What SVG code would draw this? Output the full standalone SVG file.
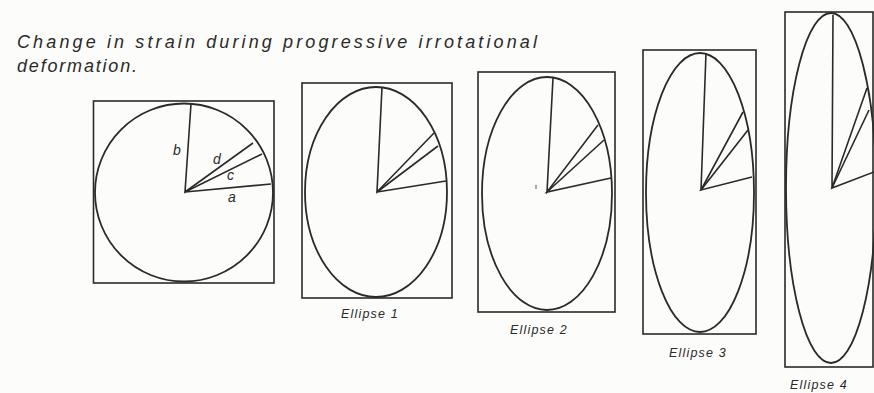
<svg xmlns="http://www.w3.org/2000/svg" width="874" height="393" viewBox="0 0 874 393">
<style>
.box{fill:none;stroke:#2a2a2a;stroke-width:1.6}
.ell{fill:none;stroke:#2a2a2a;stroke-width:1.8}
.rad{stroke:#2a2a2a;stroke-width:1.6;fill:none}
.lab{font-family:"Liberation Sans",Arial,sans-serif;font-style:italic;font-size:12.5px;fill:#2a2a2a;letter-spacing:1.2px}
.ax{font-family:"Liberation Sans",Arial,sans-serif;font-style:italic;font-size:14px;fill:#2a2a2a}
.title{font-family:"Liberation Sans",Arial,sans-serif;font-style:italic;font-size:18px;fill:#2a2a2a}
</style>
<rect width="874" height="393" fill="#fcfcfa"/>
<g id="title">
<text class="title" x="17" y="48" textLength="520" lengthAdjust="spacing">Change in strain during progressive irrotational</text>
<text class="title" x="17" y="72" textLength="120" lengthAdjust="spacing">deformation.</text>
</g>
<g id="circle">
<rect class="box" x="93.5" y="101" width="180.5" height="182"/>
<circle class="ell" cx="184" cy="192.5" r="89"/>
<polyline class="rad" points="191,104 185,192 253,143"/>
<polyline class="rad" points="262,154 185,192 271,184"/>
<text class="ax" x="173" y="155">b</text>
<text class="ax" x="213" y="164">d</text>
<text class="ax" x="227" y="180">c</text>
<text class="ax" x="228" y="202">a</text>
</g>
<g id="ellipse1">
<rect class="box" x="302" y="83" width="150" height="215"/>
<ellipse class="ell" cx="376" cy="192" rx="71" ry="105"/>
<polyline class="rad" points="382,87 377,192 434,133"/>
<polyline class="rad" points="438,146 377,192 446,181"/>
<text class="lab" x="370" y="318" text-anchor="middle">Ellipse 1</text>
</g>
<g id="ellipse2">
<rect class="box" x="478" y="72" width="137" height="240"/>
<ellipse class="ell" cx="547" cy="193.5" rx="65" ry="116.5"/>
<polyline class="rad" points="553,78 547,192 598,125"/>
<polyline class="rad" points="604,140 547,192 611,178"/>
<line x1="536" y1="185" x2="536" y2="189" stroke="#555" stroke-width="1"/>
<text class="lab" x="539" y="334" text-anchor="middle">Ellipse 2</text>
</g>
<g id="ellipse3">
<rect class="box" x="643" y="50" width="113" height="284"/>
<ellipse class="ell" cx="700" cy="192.5" rx="54" ry="139.5"/>
<polyline class="rad" points="706,53 701,190 743,112"/>
<polyline class="rad" points="748,130 701,190 752,177"/>
<text class="lab" x="698" y="357" text-anchor="middle">Ellipse 3</text>
</g>
<g id="ellipse4">
<rect class="box" x="785" y="12" width="88" height="355"/>
<ellipse class="ell" cx="831" cy="188" rx="45" ry="175"/>
<polyline class="rad" points="833,15 832,188 867,88"/>
<polyline class="rad" points="869,110 832,188 874,172"/>
<text class="lab" x="819" y="389" text-anchor="middle">Ellipse 4</text>
</g>
</svg>
